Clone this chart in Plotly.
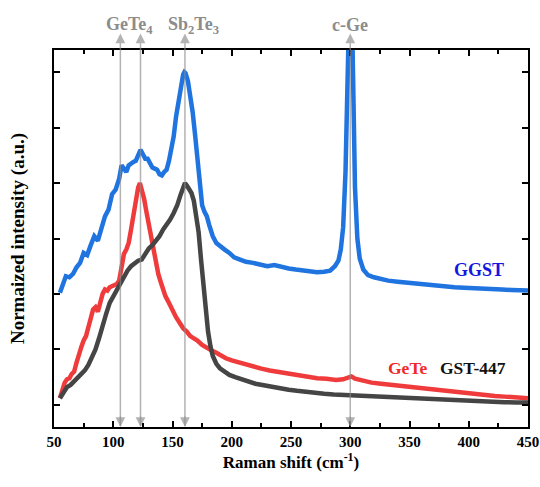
import plotly.graph_objects as go

# ---------------- data ----------------
ggst_x = [55,58,60,63,66,69,72,75,78,81,84,87,90,93,96,99,102,105,107,109,111,113,115,117,119,121,123,125,127,129,
          131,133,135,137,139,141,143,145,147,149,151,153,155,157,159,160,161,163,165,167,169,171,173,175,177,179,181,
          184,187,190,194,198,202,207,212,218,224,230,236,242,248,254,260,266,272,278,283,287,290,292,294,296,297,298,
          299,300,301,302,303,304,306,308,311,315,320,326,332,340,348,356,364,372,380,388,396,404,412,420,428,436,444,450]
ggst_y = [0.505,0.55,0.58,0.575,0.59,0.62,0.64,0.685,0.675,0.72,0.76,0.74,0.80,0.85,0.88,0.95,0.97,1.02,1.08,1.06,
          1.05,1.08,1.09,1.095,1.10,1.12,1.15,1.13,1.11,1.11,1.09,1.07,1.065,1.06,1.04,1.035,1.05,1.06,1.10,1.16,
          1.21,1.30,1.37,1.44,1.49,1.50,1.495,1.46,1.40,1.32,1.22,1.12,0.99,0.90,0.87,0.85,0.81,0.76,0.73,0.715,
          0.70,0.685,0.665,0.655,0.645,0.64,0.635,0.625,0.63,0.62,0.615,0.61,0.605,0.60,0.598,0.60,0.605,0.625,0.65,
          0.70,0.80,1.05,1.3,1.6,1.9,2.0,1.9,1.6,1.25,0.98,0.75,0.66,0.61,0.585,0.575,0.565,0.56,0.555,0.55,0.545,
          0.54,0.535,0.535,0.53,0.528,0.525,0.523,0.52,0.52,0.518,0.517,0.515]

gete_x = [55,57,59,61,63,65,67,69,71,73,75,77,79,81,83,85,87,89,91,93,95,97,99,101,103,105,107,109,111,113,115,117,
          119,121,122.5,124,126,128,130,132,134,136,138,140,142,144,146,148,150,153,156,159,162,165,168,171,175,179,
          183,187,191,195,200,206,212,218,225,232,240,248,256,264,272,280,288,294,298,301,304,310,318,326,334,342,350,
          358,366,374,382,390,398,406,414,422,430,438,446,450]
gete_y = [0.03,0.07,0.10,0.115,0.12,0.14,0.15,0.19,0.23,0.26,0.29,0.31,0.35,0.39,0.43,0.44,0.42,0.46,0.50,0.52,
          0.515,0.53,0.535,0.54,0.545,0.56,0.62,0.68,0.70,0.73,0.79,0.86,0.93,0.98,1.0,0.975,0.93,0.87,0.81,0.76,
          0.70,0.64,0.59,0.555,0.52,0.49,0.47,0.445,0.43,0.395,0.37,0.345,0.33,0.31,0.30,0.29,0.27,0.255,0.245,
          0.235,0.22,0.21,0.20,0.19,0.18,0.17,0.163,0.155,0.148,0.14,0.135,0.128,0.12,0.118,0.112,0.115,0.125,0.128,
          0.118,0.108,0.10,0.095,0.09,0.088,0.085,0.078,0.072,0.068,0.062,0.058,0.052,0.048,0.044,0.04,0.037,0.033,
          0.03,0.03]

gst_x = [55,58,61,64,67,70,73,76,79,82,85,88,91,94,97,100,103,106,109,112,115,118,121,124,127,130,133,136,139,142,
         145,148,151,154,157,159,160.5,162,164,166,168,170,172,174,176,178,180,182,184,187,190,194,198,203,208,214,
         220,227,234,241,248,255,262,270,278,286,294,302,310,320,330,340,350,360,370,380,390,400,410,420,430,440,450]
gst_y = [0.03,0.06,0.08,0.09,0.105,0.12,0.14,0.155,0.18,0.21,0.25,0.30,0.36,0.41,0.46,0.49,0.52,0.55,0.58,0.605,
         0.625,0.64,0.65,0.655,0.68,0.705,0.72,0.74,0.76,0.79,0.81,0.835,0.865,0.90,0.95,0.985,1.0,0.99,0.975,0.955,
         0.92,0.86,0.78,0.66,0.53,0.42,0.33,0.265,0.22,0.185,0.165,0.15,0.135,0.125,0.115,0.105,0.095,0.088,0.08,
         0.075,0.068,0.063,0.058,0.054,0.05,0.047,0.045,0.042,0.04,0.036,0.032,0.03,0.027,0.025,0.022,0.02,0.018,
         0.016,0.015,0.013,0.012,0.011,0.01]

peak_positions = [106, 123, 160.5, 300]
peak_labels = ["GeTe<sub>4</sub>", "Sb<sub>2</sub>Te<sub>3</sub>", "c-Ge"]
peak_label_x = [113.5, 167.5, 300]

x_ticks = [50, 100, 150, 200, 250, 300, 350, 400, 450]
y_ticks = [0, 0.25, 0.5, 0.75, 1.0, 1.25, 1.5]

# ---------------- figure ----------------
SERIF = "Liberation Serif, Times New Roman, serif"
fig = go.Figure()
fig.add_trace(go.Scatter(x=gete_x, y=gete_y, mode="lines", line=dict(color="#ef3b3b", width=4.5), name="GeTe"))
fig.add_trace(go.Scatter(x=gst_x, y=gst_y, mode="lines", line=dict(color="#454545", width=4.5), name="GST-447"))
fig.add_trace(go.Scatter(x=ggst_x, y=ggst_y, mode="lines", line=dict(color="#1f74e0", width=4.5), name="GGST"))

arrow_col = "rgba(140,140,140,0.65)"
ann = []
for p in peak_positions:
    ann.append(dict(x=p, y=1.044, xref="x", yref="paper", ax=0, ay=394, axref="pixel", ayref="pixel",
                    showarrow=True, arrowhead=2, arrowsize=1.3, arrowwidth=1.5, arrowcolor=arrow_col, text=""))
    ann.append(dict(x=p, y=0.0, xref="x", yref="paper", ax=0, ay=-12, axref="pixel", ayref="pixel",
                    showarrow=True, arrowhead=2, arrowsize=1.3, arrowwidth=1.5, arrowcolor=arrow_col, text=""))
for lab, lx in zip(peak_labels, peak_label_x):
    ann.append(dict(x=lx, y=1.066, xref="x", yref="paper", text="<b>" + lab + "</b>", showarrow=False,
                    font=dict(family=SERIF, size=18, color="#8c8c8c"), xanchor="center", yanchor="middle"))

ann.append(dict(x=408.6, y=0.607, xref="x", yref="y", text="<b>GGST</b>", showarrow=False,
                font=dict(family=SERIF, size=18, color="#1515e0")))
ann.append(dict(x=348.3, y=0.168, xref="x", yref="y", text="<b>GeTe</b>", showarrow=False,
                font=dict(family=SERIF, size=17.5, color="#ef2a2a")))
ann.append(dict(x=404, y=0.168, xref="x", yref="y", text="<b>GST-447</b>", showarrow=False,
                font=dict(family=SERIF, size=17.5, color="#111111")))

fig.update_layout(
    template="none",
    width=540, height=487,
    margin=dict(l=54, r=12, t=50, b=60, autoexpand=False),
    paper_bgcolor="white", plot_bgcolor="white",
    showlegend=False,
    annotations=ann,
    font=dict(family=SERIF, color="black"),
)
fig.update_xaxes(
    automargin=False,
    range=[50, 450], tickvals=x_ticks, ticktext=["<b>%d</b>" % v for v in x_ticks],
    ticks="inside", ticklen=6, tickwidth=1.5, tickcolor="black",
    minor=dict(ticks="inside", ticklen=4, dtick=25, tick0=50, tickcolor="black", tickwidth=1.5, showgrid=False),
    showline=True, linewidth=2, linecolor="black", mirror="ticks",
    showgrid=False, zeroline=False,
    tickfont=dict(family=SERIF, size=15, color="black"),
    title=dict(text="<b>Raman shift (cm<sup>-1</sup>)</b>", font=dict(family=SERIF, size=17, color="black"), standoff=6),
)
fig.update_yaxes(
    automargin=False,
    range=[-0.1, 1.6], tickvals=y_ticks, showticklabels=False,
    ticks="inside", ticklen=6, tickwidth=1.5, tickcolor="black",
    showline=True, linewidth=2, linecolor="black", mirror="ticks",
    showgrid=False, zeroline=False,
    title=dict(text="<b>Normaized intensity (a.u.)</b>", font=dict(family=SERIF, size=19, color="black"), standoff=22),
)

fig.write_html(
    "out.html",
    config={"displayModeBar": False},
    post_script="document.documentElement.style.overflow='hidden';document.body.style.overflow='hidden';document.body.style.margin='0';",
)
